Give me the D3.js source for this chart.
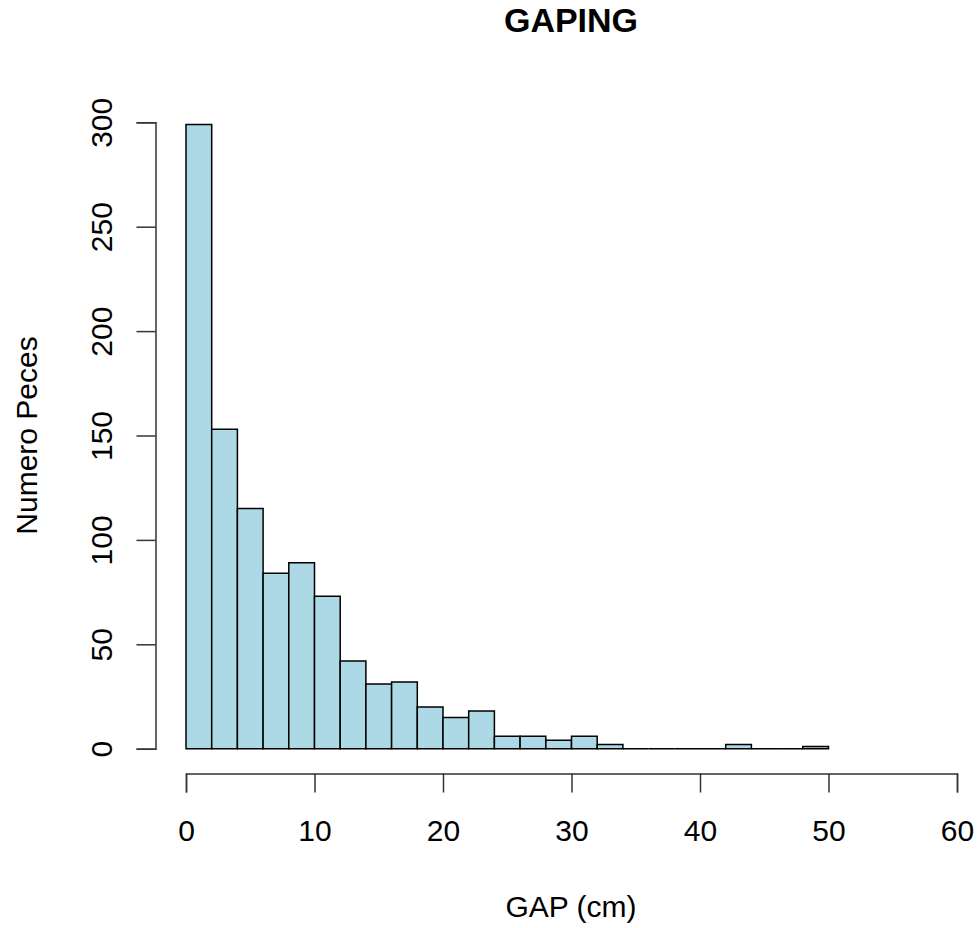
<!DOCTYPE html>
<html>
<head>
<meta charset="utf-8">
<script src="https://cdn.jsdelivr.net/npm/d3@7"></script>
<style>
  body { margin: 0; background: #fff; }
  text { font-family: "Liberation Sans", Arial, sans-serif; fill: #000; }
</style>
</head>
<body>
<script>
// histogram of gaping, bins of 2 cm
var breaks = [0,2,4,6,8,10,12,14,16,18,20,22,24,26,28,30,32,34,36,38,40,42,44,46,48,50];
var counts = [299,153,115,84,89,73,42,31,32,20,15,18,6,6,4,6,2,0,0,0,0,2,0,0,1];
var xTicks = [0,10,20,30,40,50,60];
var yTicks = [0,50,100,150,200,250,300];

var w = 979, h = 928;
var svg = d3.select('body').append('svg').attr('width', w).attr('height', h);

var x = d3.scaleLinear().domain([0, 60]).range([186, 957]);
var y = d3.scaleLinear().domain([0, 300]).range([748.7, 122.3]);

var bins = counts.map(function(c, i) { return { x0: breaks[i], x1: breaks[i + 1], n: c }; });

svg.append('g')
  .selectAll('path')
  .data(bins)
  .enter().append('path')
    .attr('d', function(d) {
      return 'M' + x(d.x0) + ',' + y(0) + 'H' + x(d.x1) + 'V' + y(d.n) + 'H' + x(d.x0) + 'Z';
    })
    .attr('fill', '#add8e6')
    .attr('stroke', '#000')
    .attr('stroke-width', 1.5);

// x axis
var gx = svg.append('g')
  .attr('transform', 'translate(0,773.5)')
  .call(d3.axisBottom(x).tickValues(xTicks).tickSize(19).tickSizeOuter(19).tickFormat(d3.format('d')));
gx.selectAll('path, line').attr('stroke', '#333').attr('stroke-width', 1.5);
gx.selectAll('text')
  .attr('y', 67).attr('dy', 0)
  .style('font-size', '30px')
  .style('font-family', '"Liberation Sans", Arial, sans-serif')
  .attr('fill', '#000');

// y axis
var gy = svg.append('g')
  .attr('transform', 'translate(155.5,0)')
  .call(d3.axisLeft(y).tickValues(yTicks).tickSize(19).tickSizeOuter(19).tickFormat(d3.format('d')));
gy.selectAll('path, line').attr('stroke', '#333').attr('stroke-width', 1.5);
gy.selectAll('text')
  .attr('x', 0).attr('y', -44).attr('dy', 0)
  .attr('transform', 'rotate(-90)')
  .attr('text-anchor', 'middle')
  .style('font-size', '30px')
  .style('font-family', '"Liberation Sans", Arial, sans-serif')
  .attr('fill', '#000');

svg.append('text')
  .attr('x', 571).attr('y', 32)
  .attr('text-anchor', 'middle')
  .style('font-size', '34px')
  .style('font-weight', 'bold')
  .text('GAPING');

svg.append('text')
  .attr('x', 571).attr('y', 917)
  .attr('text-anchor', 'middle')
  .style('font-size', '30px')
  .text('GAP (cm)');

svg.append('text')
  .attr('transform', 'translate(37,435.5) rotate(-90)')
  .attr('text-anchor', 'middle')
  .style('font-size', '30px')
  .text('Numero Peces');
</script>
</body>
</html>
